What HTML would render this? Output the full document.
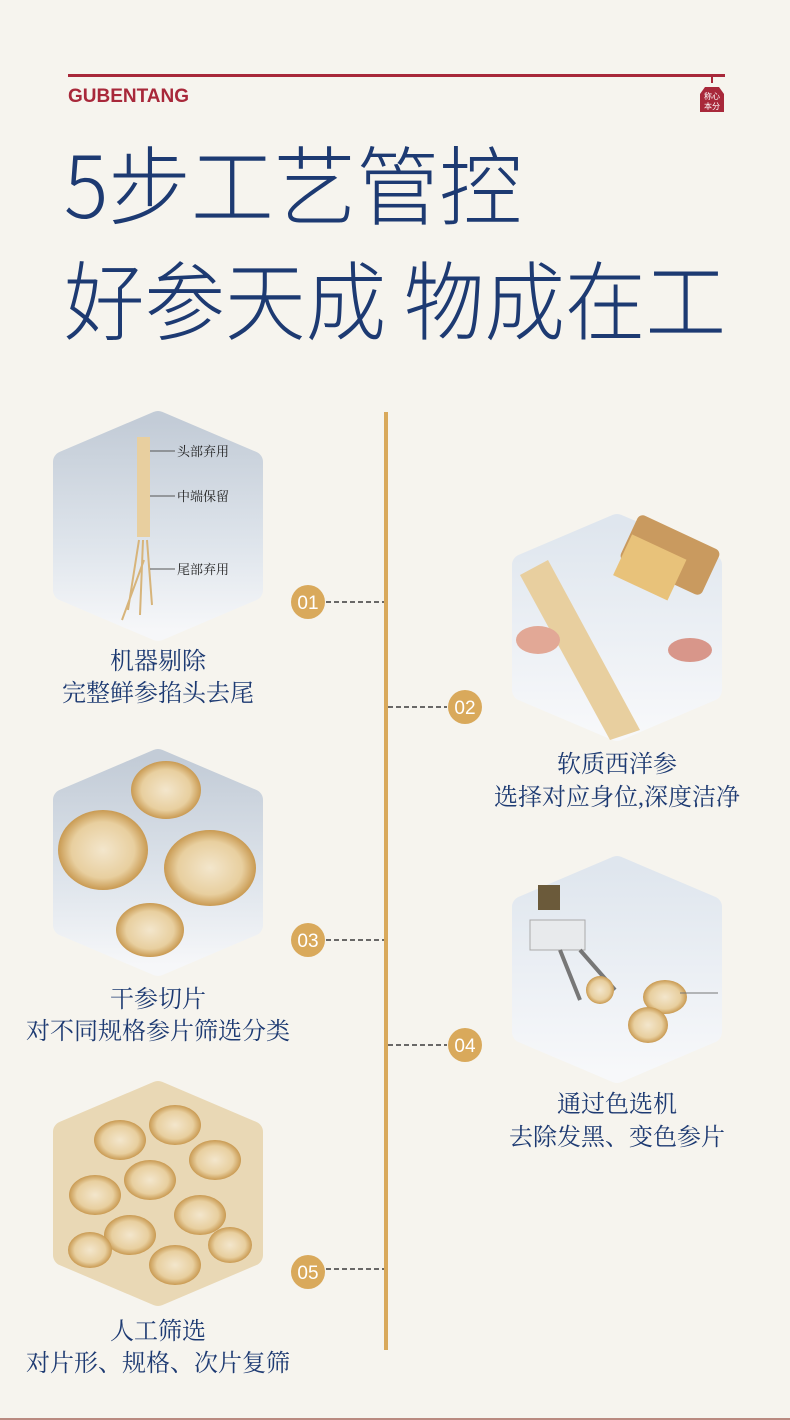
<!DOCTYPE html>
<html><head><meta charset="utf-8"><style>
html,body{margin:0;padding:0;background:#f6f4ee;}
body{width:790px;height:1420px;position:relative;overflow:hidden;}
svg{position:absolute;left:0;top:0;}
</style></head><body>
<svg width="790" height="1420" viewBox="0 0 790 1420" xmlns="http://www.w3.org/2000/svg">
<defs>
<linearGradient id="g1" x1="0" y1="0" x2="0" y2="1"><stop offset="0" stop-color="#c3ccd7"/><stop offset="0.6" stop-color="#dfe5ec"/><stop offset="1" stop-color="#f6f7f9"/></linearGradient>
<linearGradient id="g2" x1="0" y1="0" x2="0" y2="1"><stop offset="0" stop-color="#dfe6ee"/><stop offset="1" stop-color="#f7f8fa"/></linearGradient>
<radialGradient id="sl" cx="0.5" cy="0.5" r="0.5"><stop offset="0" stop-color="#f3e6cc"/><stop offset="0.7" stop-color="#e8cf9f"/><stop offset="1" stop-color="#c99a52"/></radialGradient>
</defs>
<rect x="0" y="0" width="790" height="1420" fill="#f6f4ee"/>
<!-- header -->
<rect x="68" y="74" width="657" height="3" fill="#a8283a"/>
<text x="68" y="102" font-family="Liberation Sans, sans-serif" font-weight="bold" font-size="19" fill="#a8283a">GUBENTANG</text>
<rect x="711" y="77" width="2" height="6" fill="#a8283a"/>
<path d="M705 87 L719 87 L724 94 L724 112 L700 112 L700 94 Z" fill="#a8283a"/>
<text x="712" y="99" font-family="Noto Sans CJK SC, sans-serif" font-size="8" fill="#fff" text-anchor="middle">称心</text>
<text x="712" y="109" font-family="Noto Sans CJK SC, sans-serif" font-size="8" fill="#fff" text-anchor="middle">本分</text>
<!-- title -->
<g transform="translate(0,218) scale(1,1.1)">
<text x="64" y="0" font-family="Noto Sans CJK SC, sans-serif" font-weight="300" font-size="78" fill="#1d3a72" textLength="458" lengthAdjust="spacingAndGlyphs">5步工艺管控</text>
</g>
<g transform="translate(0,333) scale(1,1.1)">
<text x="64" y="0" font-family="Noto Sans CJK SC, sans-serif" font-weight="300" font-size="78" fill="#1d3a72" textLength="662" lengthAdjust="spacingAndGlyphs">好参天成 物成在工</text>
</g>
<!-- timeline -->
<rect x="384" y="412" width="4" height="938" fill="#d9a95b"/>
<g stroke="#3a3a3a" stroke-width="1.5" stroke-dasharray="5,3">
<line x1="326" y1="602" x2="384" y2="602"/>
<line x1="388" y1="707" x2="447" y2="707"/>
<line x1="326" y1="940" x2="384" y2="940"/>
<line x1="388" y1="1045" x2="447" y2="1045"/>
<line x1="326" y1="1269" x2="384" y2="1269"/>
</g>
<g fill="#d9a95b"><circle cx="308" cy="602" r="17"/><circle cx="465" cy="707" r="17"/><circle cx="308" cy="940" r="17"/><circle cx="465" cy="1045" r="17"/><circle cx="308" cy="1272" r="17"/></g>
<g font-family="Liberation Sans, sans-serif" font-size="19" fill="#fff" text-anchor="middle">
<text x="308" y="609">01</text><text x="465" y="714">02</text><text x="308" y="947">03</text><text x="465" y="1052">04</text><text x="308" y="1279">05</text>
</g>
<!-- hexagons -->
<g stroke-linejoin="round" stroke-width="22">
<path d="M158 422 L252 462 L252 590 L158 630 L64 590 L64 462 Z" fill="url(#g1)" stroke="url(#g1)"/>
<path d="M617 525 L711 565 L711 690 L617 730 L523 690 L523 565 Z" fill="url(#g2)" stroke="url(#g2)"/>
<path d="M158 760 L252 800 L252 925 L158 965 L64 925 L64 800 Z" fill="url(#g1)" stroke="url(#g1)"/>
<path d="M617 867 L711 907 L711 1032 L617 1072 L523 1032 L523 907 Z" fill="url(#g2)" stroke="url(#g2)"/>
<path d="M158 1092 L252 1132 L252 1255 L158 1295 L64 1255 L64 1132 Z" fill="#e9d8b5" stroke="#e9d8b5"/>
</g>
<!-- img1 root -->
<rect x="137" y="437" width="13" height="100" fill="#e8cf9f"/>
<path d="M139 540 L128 610 M143 540 L140 615 M147 540 L152 605 M144 560 L122 620" stroke="#d7b47a" stroke-width="2" fill="none"/>
<g stroke="#555" stroke-width="1"><line x1="150" y1="451" x2="175" y2="451"/><line x1="150" y1="496" x2="175" y2="496"/><line x1="150" y1="569" x2="175" y2="569"/></g>
<g font-family="Noto Serif CJK SC, serif" font-size="13" fill="#222">
<text x="177" y="456">头部弃用</text><text x="177" y="501">中端保留</text><text x="177" y="574">尾部弃用</text></g>
<!-- img2 -->
<path d="M520 575 L548 560 L640 730 L610 740 Z" fill="#e8cf9f"/>
<rect x="625" y="530" width="90" height="50" rx="6" fill="#c99a5f" transform="rotate(25 670 555)"/>
<rect x="620" y="545" width="60" height="45" fill="#e8c27a" transform="rotate(25 650 567)"/>
<ellipse cx="538" cy="640" rx="22" ry="14" fill="#e2a896"/>
<ellipse cx="690" cy="650" rx="22" ry="12" fill="#d8968a"/>
<!-- img3 slices -->
<ellipse cx="103" cy="850" rx="45" ry="40" fill="url(#sl)"/>
<ellipse cx="166" cy="790" rx="35" ry="29" fill="url(#sl)"/>
<ellipse cx="210" cy="868" rx="46" ry="38" fill="url(#sl)"/>
<ellipse cx="150" cy="930" rx="34" ry="27" fill="url(#sl)"/>
<!-- img4 -->
<rect x="530" y="920" width="55" height="30" fill="#e8eaec" stroke="#aaa"/>
<rect x="538" y="885" width="22" height="25" fill="#6b5a3a"/>
<path d="M560 950 L580 1000 M580 950 L615 990" stroke="#777" stroke-width="4"/>
<circle cx="600" cy="990" r="14" fill="url(#sl)"/>
<ellipse cx="665" cy="997" rx="22" ry="17" fill="url(#sl)"/>
<ellipse cx="648" cy="1025" rx="20" ry="18" fill="url(#sl)"/>
<line x1="680" y1="993" x2="718" y2="993" stroke="#777"/>
<!-- img5 slices -->
<g fill="url(#sl)">
<ellipse cx="120" cy="1140" rx="26" ry="20"/><ellipse cx="175" cy="1125" rx="26" ry="20"/><ellipse cx="215" cy="1160" rx="26" ry="20"/>
<ellipse cx="95" cy="1195" rx="26" ry="20"/><ellipse cx="150" cy="1180" rx="26" ry="20"/><ellipse cx="200" cy="1215" rx="26" ry="20"/>
<ellipse cx="130" cy="1235" rx="26" ry="20"/><ellipse cx="175" cy="1265" rx="26" ry="20"/><ellipse cx="230" cy="1245" rx="22" ry="18"/>
<ellipse cx="90" cy="1250" rx="22" ry="18"/>
</g>
<!-- captions -->
<g font-family="Liberation Serif, Noto Serif CJK SC, serif" font-size="24" fill="#1d3a72" text-anchor="middle">
<text x="158" y="669">机器剔除</text><text x="158" y="701">完整鲜参掐头去尾</text>
<text x="617" y="772">软质西洋参</text><text x="617" y="805">选择对应身位,深度洁净</text>
<text x="158" y="1007">干参切片</text><text x="158" y="1039">对不同规格参片筛选分类</text>
<text x="617" y="1112">通过色选机</text><text x="617" y="1145">去除发黑、变色参片</text>
<text x="158" y="1339">人工筛选</text><text x="158" y="1371">对片形、规格、次片复筛</text>
</g>
<rect x="0" y="1418" width="790" height="2" fill="#b98a80"/>
</svg>
</body></html>
